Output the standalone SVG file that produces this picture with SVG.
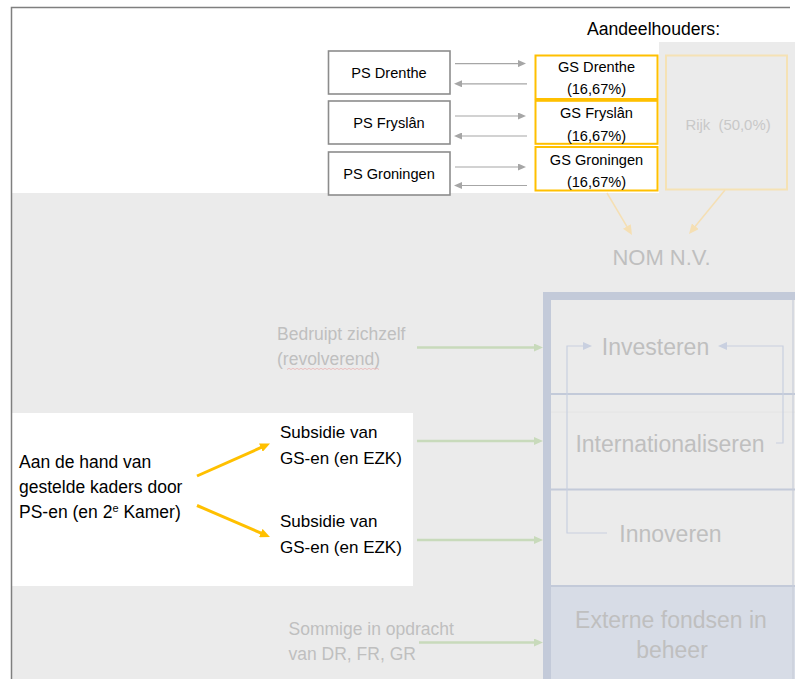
<svg xmlns="http://www.w3.org/2000/svg" width="795" height="679" viewBox="0 0 795 679">
<style>
text{font-family:"Liberation Sans",Arial,sans-serif}
.ps{fill:#fff;stroke:#8c8c8c;stroke-width:1.6}
.gs{fill:#fff;stroke:#ffc000;stroke-width:2}
.t14{font-size:14.6px;fill:#000;text-anchor:middle}
.blk{font-size:17px;fill:#000}
.gl{font-size:17.5px;fill:#bfbfbf}
.big{font-size:23px;fill:#bfbfbf;text-anchor:middle}
.div{stroke:#c3cad9;stroke-width:2}
.ga{stroke:#a6a6a6;stroke-width:1.2;fill:none}
.gr{stroke:#c8dabb;stroke-width:2.5;fill:none}
.ye{stroke:#ffc000;stroke-width:3;fill:none}
.ly{stroke:#f5dfb3;stroke-width:1.5;fill:none}
.cy{stroke:#c9d0e0;stroke-width:1.2;fill:none}
</style>
<defs>
<marker id="mg" markerUnits="userSpaceOnUse" markerWidth="8" markerHeight="7" viewBox="0 0 8 7" refX="1" refY="3.5" orient="auto"><path d="M0,0L8,3.5L0,7z" fill="#a6a6a6"/></marker>
<marker id="mgr" markerUnits="userSpaceOnUse" markerWidth="9" markerHeight="8" viewBox="0 0 9 8" refX="1" refY="4" orient="auto"><path d="M0,0L9,4L0,8z" fill="#c8dabb"/></marker>
<marker id="my" markerUnits="userSpaceOnUse" markerWidth="10" markerHeight="9" viewBox="0 0 10 9" refX="1" refY="4.5" orient="auto"><path d="M0,0L10,4.5L0,9z" fill="#ffc000"/></marker>
<marker id="mly" markerUnits="userSpaceOnUse" markerWidth="10" markerHeight="9" viewBox="0 0 10 9" refX="1" refY="4.5" orient="auto"><path d="M0,0L10,4.5L0,9z" fill="#f5dfb3"/></marker>
<marker id="mc" markerUnits="userSpaceOnUse" markerWidth="9" markerHeight="8" viewBox="0 0 9 8" refX="1" refY="4" orient="auto"><path d="M0,0L9,4L0,8z" fill="#c9d0e0"/></marker>
</defs>

<g id="background">
<rect x="0" y="0" width="795" height="679" fill="#fff"/>
<rect x="12" y="193" width="783" height="486" fill="#ebebeb"/>
<rect x="659" y="42" width="136" height="151" fill="#ebebeb"/>
<rect x="12" y="413" width="401" height="173" fill="#fff"/>
<path d="M11.5,679V7.5H790" fill="none" stroke="#7f7f7f" stroke-width="1.5"/>
</g>

<g id="aandeelhouders"><text x="587" y="35" style="font-size:17.6px;fill:#000">Aandeelhouders:</text></g>

<g id="ps-drenthe"><rect class="ps" x="328.5" y="51" width="121.5" height="43"/><text class="t14" x="389" y="77.8">PS Drenthe</text></g>
<g id="ps-fryslan"><rect class="ps" x="328.5" y="101" width="121.5" height="43"/><text class="t14" x="389" y="127.8">PS Fryslân</text></g>
<g id="ps-groningen"><rect class="ps" x="328.5" y="152" width="121.5" height="43"/><text class="t14" x="389" y="179">PS Groningen</text></g>

<g id="gs-drenthe"><rect class="gs" x="535.5" y="55.5" width="122" height="43.5"/><text class="t14" x="596.5" y="72.3">GS Drenthe</text><text class="t14" x="596.5" y="94.3">(16,67%)</text></g>
<g id="gs-fryslan"><rect class="gs" x="535.5" y="100.8" width="122" height="43"/><text class="t14" x="596.5" y="117.7">GS Fryslân</text><text class="t14" x="596.5" y="140.5">(16,67%)</text></g>
<g id="gs-groningen"><rect class="gs" x="535.5" y="147" width="122" height="43.5"/><text class="t14" x="596.5" y="164.8">GS Groningen</text><text class="t14" x="596.5" y="186.6">(16,67%)</text></g>

<g id="rijk"><rect x="666" y="55.5" width="121" height="134" fill="none" stroke="#f5e2b5" stroke-width="2"/><text x="728" y="130.3" xml:space="preserve" style="font-size:14.9px;fill:#c8c8c8;text-anchor:middle">Rijk  (50,0%)</text></g>

<g id="nom"><text class="big" x="661.5" y="264.6" style="font-size:22px">NOM N.V.</text></g>

<g id="nom-box">
<rect x="551" y="586" width="244" height="93" fill="#d7dce6"/>
<path d="M547,679V296H795" fill="none" stroke="#c3cad9" stroke-width="8"/>
<line class="div" x1="551" y1="394" x2="795" y2="394"/>
<line class="div" x1="551" y1="489.5" x2="795" y2="489.5"/>
<line class="div" x1="551" y1="586" x2="795" y2="586"/>
<line x1="551" y1="412" x2="795" y2="412" stroke="#e4e4e4" stroke-width="1"/>
<line x1="793" y1="300" x2="793" y2="679" stroke="#c8cdd9" stroke-width="1.2"/>
</g>
<g id="investeren"><text class="big" x="655.5" y="355">Investeren</text></g>
<g id="internationaliseren"><text class="big" x="670" y="452">Internationaliseren</text></g>
<g id="innoveren"><text class="big" x="670.5" y="542">Innoveren</text></g>
<g id="externe-fondsen"><text class="big" x="671" y="628">Externe fondsen in</text><text class="big" x="672" y="658">beheer</text></g>

<g id="bedruipt"><text class="gl" x="277" y="340">Bedruipt zichzelf</text><text class="gl" x="277" y="365">(revolverend)</text>
<path d="M287,369.5l2,-1.2l2,1.2l2,-1.2l2,1.2l2,-1.2l2,1.2l2,-1.2l2,1.2l2,-1.2l2,1.2l2,-1.2l2,1.2l2,-1.2l2,1.2l2,-1.2l2,1.2l2,-1.2l2,1.2l2,-1.2l2,1.2l2,-1.2l2,1.2l2,-1.2l2,1.2l2,-1.2l2,1.2l2,-1.2l2,1.2l2,-1.2l2,1.2l2,-1.2l2,1.2l2,-1.2l2,1.2l2,-1.2l2,1.2l2,-1.2l2,1.2l2,-1.2l2,1.2l2,-1.2l2,1.2l2,-1.2l2,1.2l2,-1.2l2,1.2" fill="none" stroke="#eab3b3" stroke-width="0.8"/></g>
<g id="kaders"><text class="blk" x="19" y="468" style="font-size:17.5px">Aan de hand van</text><text class="blk" x="19" y="493" style="font-size:17.5px">gestelde kaders door</text><text class="blk" x="19" y="518" style="font-size:17.5px">PS-en (en 2<tspan font-size="11" dy="-6">e</tspan><tspan dy="6"> Kamer)</tspan></text></g>
<g id="subsidie-1"><text class="blk" x="280" y="438">Subsidie van</text><text class="blk" x="280" y="464">GS-en (en EZK)</text></g>
<g id="subsidie-2"><text class="blk" x="280" y="527">Subsidie van</text><text class="blk" x="280" y="553">GS-en (en EZK)</text></g>
<g id="sommige"><text class="gl" x="288.5" y="635">Sommige in opdracht</text><text class="gl" x="288.5" y="660">van DR, FR, GR</text></g>

<g id="connectors">
<line class="ga" x1="455" y1="63.6" x2="519" y2="63.6" marker-end="url(#mg)"/>
<line class="ga" x1="527" y1="83.8" x2="461" y2="83.8" marker-end="url(#mg)"/>
<line class="ga" x1="455" y1="116" x2="519" y2="116" marker-end="url(#mg)"/>
<line class="ga" x1="527" y1="136" x2="461" y2="136" marker-end="url(#mg)"/>
<line class="ga" x1="455" y1="167" x2="519" y2="167" marker-end="url(#mg)"/>
<line class="ga" x1="527" y1="185.5" x2="461" y2="185.5" marker-end="url(#mg)"/>
<line class="ly" x1="607" y1="193" x2="627.4" y2="227.3" marker-end="url(#mly)"/>
<line class="ly" x1="725" y1="190" x2="694.7" y2="227" marker-end="url(#mly)"/>
<path class="cy" d="M776,443H783V346H726" marker-end="url(#mc)"/>
<path class="cy" d="M607,533H567V346H584" marker-end="url(#mc)"/>
<line class="gr" x1="417" y1="347.5" x2="535" y2="347.5" marker-end="url(#mgr)"/>
<line class="gr" x1="417" y1="441" x2="535" y2="441" marker-end="url(#mgr)"/>
<line class="gr" x1="417" y1="540" x2="535" y2="540" marker-end="url(#mgr)"/>
<line class="gr" x1="419" y1="642.5" x2="535" y2="642.5" marker-end="url(#mgr)"/>
<line class="ye" x1="197" y1="476" x2="261.8" y2="447.2" marker-end="url(#my)"/>
<line class="ye" x1="197" y1="505.5" x2="261.7" y2="533.4" marker-end="url(#my)"/>
</g>
</svg>
